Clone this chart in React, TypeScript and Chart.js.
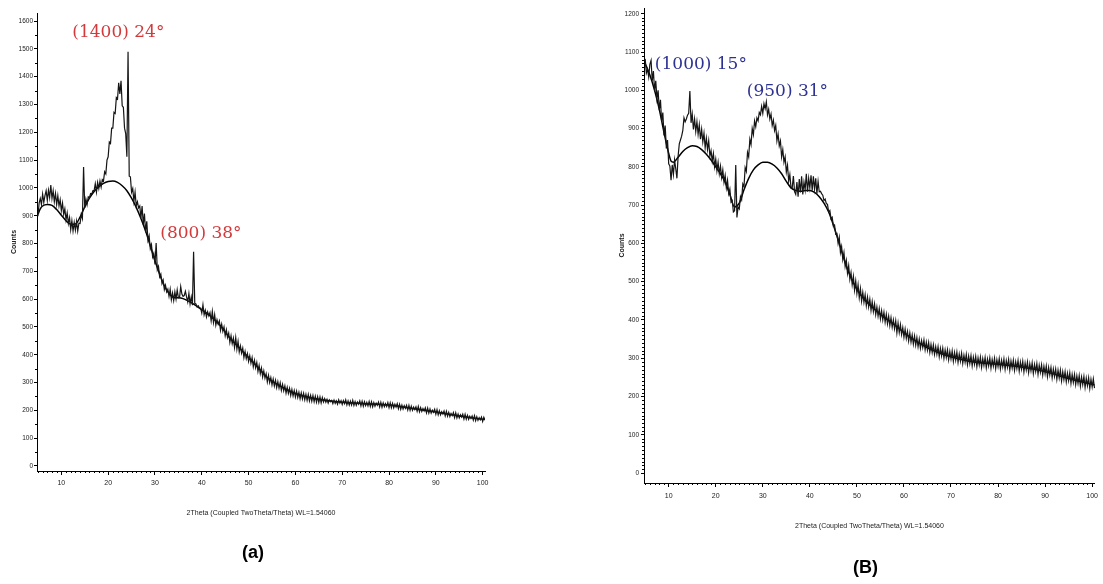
import { useEffect, useRef } from 'react';
import { Chart, registerables } from 'chart.js';

Chart.register(...registerables);

// ---- sampling grid of the scans (2θ, degrees) ----
const scanStart = 5;
const scanStep = 0.25;

// ---- panel (a): measured counts, one row per degree (x.00, x.25, x.50, x.75) ----
const countsA = [
  898, 945, 962, 940,
  978, 948, 972, 990,
  955, 992, 965, 1010,
  962, 990, 950, 980,
  940, 972, 935, 958,
  918, 945, 905, 925,
  885, 910, 872, 893,
  850, 882, 845, 876,
  848, 880, 845, 873,
  872, 905, 890, 1075,
  928, 960, 940, 968,
  965, 980, 978, 990,
  990, 1015, 985, 1020,
  998, 1025, 1003, 1030,
  1025, 1058, 1050, 1100,
  1112, 1165, 1160, 1215,
  1215, 1272, 1268, 1325,
  1320, 1378, 1338, 1385,
  1295, 1290, 1215, 1195,
  1112, 1490, 1042, 1040,
  985, 998, 952, 985,
  936, 950, 928, 935,
  892, 935, 868, 908,
  840, 880, 812, 828,
  782, 796, 752, 765,
  725, 802, 706, 718,
  680, 690, 656, 668,
  634, 650, 626, 636,
  610, 636, 598, 622,
  595, 626, 600, 633,
  605, 606, 645, 618,
  610, 613, 628, 608,
  590, 620, 583, 608,
  578, 770, 585, 583,
  572, 576, 568, 568,
  550, 580, 544, 560,
  536, 554, 540, 552,
  522, 556, 516, 544,
  506, 526, 510, 522,
  488, 510, 484, 500,
  468, 490, 462, 478,
  444, 468, 440, 460,
  426, 462, 420, 448,
  410, 432, 406, 424,
  390, 412, 386, 404,
  376, 396, 370, 390,
  357, 380, 353, 372,
  340, 362, 332, 352,
  320, 342, 316, 332,
  302, 326, 300, 318,
  292, 313, 288, 308,
  282, 303, 280, 299,
  272, 293, 270, 288,
  262, 283, 261, 279,
  254, 275, 252, 271,
  248, 269, 246, 265,
  242, 263, 241, 261,
  238, 258, 236, 257,
  234, 254, 233, 253,
  231, 251, 229, 249,
  228, 248, 227, 246,
  230, 242, 229, 240,
  226, 238, 231, 236,
  224, 237, 225, 234,
  222, 238, 226, 235,
  221, 235, 224, 238,
  220, 234, 219, 233,
  219, 236, 218, 232,
  218, 230, 222, 234,
  216, 233, 215, 231,
  217, 229, 216, 232,
  214, 231, 213, 228,
  215, 226, 218, 230,
  212, 229, 211, 227,
  213, 224, 214, 228,
  210, 227, 209, 225,
  209, 222, 212, 224,
  206, 222, 204, 219,
  205, 217, 207, 218,
  201, 218, 200, 215,
  200, 212, 203, 213,
  197, 214, 195, 210,
  196, 207, 198, 209,
  191, 208, 190, 205,
  190, 201, 193, 204,
  186, 203, 184, 199,
  184, 195, 187, 198,
  180, 197, 179, 193,
  178, 189, 181, 192,
  174, 191, 173, 187,
  173, 184, 176, 186,
  169, 186, 168, 182,
  168, 179, 171, 180,
  165, 181, 163, 177,
  164, 174, 166, 176,
  160, 175, 165,
];

// ---- panel (a): smooth fitted background ----
const fitAnglesA = [5, 5.5, 6, 7, 8, 9, 10, 11, 12, 13, 14, 15, 16, 17, 18, 19, 20, 21, 22, 23, 24, 25, 26, 27, 28, 29, 30, 31, 32, 33, 34, 35, 36, 38, 40, 42, 44, 46, 48, 50, 52, 54, 56, 58, 60, 65, 70, 75, 80, 85, 90, 95, 100.5];
const fitCountsA = [905, 925, 935, 940, 937, 922, 902, 882, 869, 870, 895, 932, 963, 987, 1004, 1016, 1023, 1025, 1020, 1008, 990, 963, 930, 890, 845, 792, 738, 690, 648, 620, 606, 605, 602, 585, 562, 537, 504, 460, 425, 390, 355, 318, 295, 276, 261, 240, 229, 224, 219, 207, 194, 180, 167];

// ---- panel (B): measured counts, one row per degree (x.00, x.25, x.50, x.75) ----
const countsB = [
  1082, 1045, 1055, 1035,
  1068, 1078, 1025, 1050,
  998, 1025, 978, 1000,
  948, 975, 918, 942,
  882, 908, 848, 870,
  808, 802, 765, 805,
  780, 818, 795, 770,
  828, 860, 870, 880,
  895, 928, 918, 925,
  935, 940, 998, 915,
  938, 898, 925, 892,
  918, 885, 910, 872,
  898, 865, 888, 850,
  875, 845, 868, 828,
  842, 815, 835, 800,
  820, 790, 812, 782,
  802, 772, 792, 760,
  778, 745, 765, 730,
  742, 708, 712, 682,
  685, 805, 668, 695,
  690, 722, 714, 755,
  748, 798, 788, 838,
  826, 872, 858, 900,
  884, 920, 905, 928,
  920, 942, 936, 958,
  940, 965, 952, 970,
  936, 950, 925, 938,
  908, 922, 895, 908,
  868, 886, 855, 868,
  826, 845, 812, 826,
  786, 804, 762, 780,
  745, 745, 776, 735,
  728, 760, 722, 768,
  733, 775, 728, 760,
  740, 782, 735, 770,
  745, 778, 738, 775,
  742, 770, 730, 762,
  735, 736, 730, 726,
  712, 716, 704, 702,
  682, 686, 664, 668,
  645, 648, 624, 626,
  600, 616, 576, 592,
  558, 576, 540, 556,
  522, 542, 506, 524,
  492, 514, 478, 502,
  469, 492, 458, 482,
  449, 472, 446, 466,
  437, 460, 434, 454,
  425, 448, 422, 442,
  414, 434, 410, 430,
  403, 424, 400, 420,
  394, 415, 390, 410,
  385, 406, 381, 400,
  377, 398, 366, 392,
  367, 388, 362, 380,
  355, 376, 352, 370,
  345, 366, 342, 361,
  337, 358, 334, 354,
  330, 350, 326, 346,
  328, 348, 322, 342,
  321, 341, 315, 336,
  315, 335, 310, 330,
  310, 330, 304, 326,
  306, 326, 300, 322,
  302, 322, 296, 318,
  298, 319, 292, 315,
  295, 316, 289, 311,
  292, 313, 286, 308,
  289, 310, 283, 306,
  286, 307, 280, 303,
  284, 305, 278, 301,
  282, 303, 276, 299,
  281, 302, 275, 298,
  280, 301, 274, 297,
  279, 300, 273, 296,
  278, 299, 272, 295,
  277, 298, 271, 294,
  276, 297, 269, 293,
  274, 295, 268, 291,
  273, 294, 266, 290,
  271, 292, 264, 288,
  269, 290, 262, 286,
  267, 288, 260, 284,
  265, 286, 258, 282,
  263, 283, 256, 279,
  259, 280, 252, 276,
  256, 276, 249, 272,
  252, 272, 245, 269,
  248, 269, 241, 265,
  244, 265, 238, 261,
  241, 262, 234, 258,
  237, 258, 231, 254,
  234, 255, 227, 251,
  231, 252, 224, 248,
  228, 249, 221, 245,
  225, 246, 222,
];

// ---- panel (B): smooth fitted background ----
const fitAnglesB = [5, 6, 7, 8, 9, 10, 10.5, 11, 12, 13, 14, 15, 16, 17, 18, 19, 20, 21, 22, 23, 24, 25, 26, 27, 28, 29, 30, 31, 32, 33, 34, 35, 36, 37, 38, 39, 40, 41, 42, 43, 44, 45, 46, 47, 48, 50, 52, 54, 56, 58, 60, 62, 64, 66, 68, 70, 75, 80, 85, 90, 95, 100.5];
const fitCountsB = [1070, 1040, 1000, 950, 890, 835, 815, 812, 825, 840, 850, 855, 853, 845, 833, 818, 800, 782, 760, 728, 695, 705, 740, 770, 792, 805, 812, 812, 807, 797, 782, 762, 745, 738, 736, 738, 738, 733, 722, 705, 682, 648, 610, 570, 532, 480, 448, 425, 405, 388, 367, 349, 334, 321, 312, 304, 290, 284, 277, 265, 247, 230];

// ---- ticks ----
const xTickValues = [10, 20, 30, 40, 50, 60, 70, 80, 90, 100];
const yTickValuesA = [0, 100, 200, 300, 400, 500, 600, 700, 800, 900, 1000, 1100, 1200, 1300, 1400, 1500, 1600];
const yTickValuesB = [0, 100, 200, 300, 400, 500, 600, 700, 800, 900, 1000, 1100, 1200];

// ---- peak annotations ----
const peakTextsA = ['(1400) 24°', '(800) 38°'];
const peakAnglesA = [12.35, 31.15];
const peakCountsA = [1558, 837];
const peakTextsB = ['(1000) 15°', '(950) 31°'];
const peakAnglesB = [7.06, 26.6];
const peakCountsB = [1066, 996];

const xTitle = '2Theta (Coupled TwoTheta/Theta) WL=1.54060';
const yTitle = 'Counts';

const narrow = "'Liberation Sans Narrow', 'Liberation Sans', Arial, sans-serif";

type Panel = {
  counts: number[];
  fitAngles: number[];
  fitCounts: number[];
  yTicks: number[];
  peakTexts: string[];
  peakAngles: number[];
  peakCounts: number[];
  peakColor: string;
  panelLabel: string;
  left: number;
  width: number;
  pad: { left: number; right: number; top: number; bottom: number };
  yAxisWidth: number;
  xAxisHeight: number;
  xMin: number;
  xMax: number;
  yMin: number;
  yMax: number;
  yMinorStep: number;
  yTitlePad: number;
  xTitlePad: number;
  xTickPad: number;
  yTickPad: number;
  panelDx: number;
  panelY: number;
};

const panels: Panel[] = [
  {
    counts: countsA, fitAngles: fitAnglesA, fitCounts: fitCountsA, yTicks: yTickValuesA,
    peakTexts: peakTextsA, peakAngles: peakAnglesA, peakCounts: peakCountsA, peakColor: '#d23a3c',
    panelLabel: '(a)', left: 0, width: 500,
    pad: { left: 0, right: 15, top: 13, bottom: 0 },
    yAxisWidth: 37, xAxisHeight: 113,
    xMin: 4.8, xMax: 100.5, yMin: -18, yMax: 1629, yMinorStep: 50,
    yTitlePad: 10, xTitlePad: 67, xTickPad: 4, yTickPad: 1, panelDx: -8, panelY: 553,
  },
  {
    counts: countsB, fitAngles: fitAnglesB, fitCounts: fitCountsB, yTicks: yTickValuesB,
    peakTexts: peakTextsB, peakAngles: peakAnglesB, peakCounts: peakCountsB, peakColor: '#2d3192',
    panelLabel: '(B)', left: 600, width: 503,
    pad: { left: 0, right: 3, top: 8, bottom: 0 },
    yAxisWidth: 44, xAxisHeight: 101,
    xMin: 4.75, xMax: 100.6, yMin: -26, yMax: 1215, yMinorStep: 10,
    yTitlePad: 18, xTitlePad: 54, xTickPad: 5, yTickPad: 2, panelDx: -4, panelY: 568,
  },
];

function makeOverlay(p: Panel) {
  return {
    id: 'overlay',
    afterDraw(chart: any) {
      const { ctx, chartArea, scales } = chart;
      const xs = scales.x;
      const ys = scales.y;
      ctx.save();
      // minor ticks
      ctx.strokeStyle = '#000';
      ctx.lineWidth = 1;
      ctx.beginPath();
      for (let v = 5; v <= 100; v += 1) {
        if (v % 10 === 0) continue;
        const px = Math.round(xs.getPixelForValue(v)) + 0.5;
        ctx.moveTo(px, chartArea.bottom);
        ctx.lineTo(px, chartArea.bottom + 2);
      }
      for (let v = p.yMinorStep; v < p.yTicks[p.yTicks.length - 1]; v += p.yMinorStep) {
        if (v % 100 === 0) continue;
        const py = Math.round(ys.getPixelForValue(v)) + 0.5;
        ctx.moveTo(chartArea.left - 2, py);
        ctx.lineTo(chartArea.left, py);
      }
      ctx.stroke();
      // peak annotations
      ctx.font = "17px 'DejaVu Serif', 'Liberation Serif', serif";
      ctx.fillStyle = p.peakColor;
      ctx.textAlign = 'left';
      ctx.textBaseline = 'middle';
      p.peakTexts.forEach((t, i) => {
        ctx.fillText(t, xs.getPixelForValue(p.peakAngles[i]), ys.getPixelForValue(p.peakCounts[i]));
      });
      // panel label
      ctx.font = "bold 18px 'Liberation Sans', Arial, sans-serif";
      ctx.fillStyle = '#000';
      ctx.textAlign = 'center';
      ctx.fillText(p.panelLabel, (chartArea.left + chartArea.right) / 2 + p.panelDx, p.panelY);
      ctx.restore();
    },
  };
}

function makeConfig(p: Panel): any {
  const measured = p.counts.map((c, i) => ({ x: scanStart + i * scanStep, y: c }));
  const fitted = p.fitCounts.map((c, i) => ({ x: p.fitAngles[i], y: c }));
  return {
    type: 'line',
    data: {
      datasets: [
        { data: measured, borderColor: '#151515', borderWidth: 1.2, pointRadius: 0, tension: 0, fill: false },
        { data: fitted, borderColor: '#000', borderWidth: 1.5, pointRadius: 0, tension: 0.4, cubicInterpolationMode: 'monotone', fill: false },
      ],
    },
    options: {
      animation: false,
      responsive: false,
      maintainAspectRatio: false,
      layout: { padding: p.pad },
      plugins: { legend: { display: false }, tooltip: { enabled: false }, title: { display: false } },
      scales: {
        x: {
          type: 'linear',
          min: p.xMin,
          max: p.xMax,
          afterBuildTicks: (axis: any) => { axis.ticks = xTickValues.map((v) => ({ value: v })); },
          afterFit: (axis: any) => { axis.height = p.xAxisHeight; },
          ticks: { font: { family: narrow, size: 7 }, color: '#222', padding: p.xTickPad, maxRotation: 0, autoSkip: false },
          grid: { drawOnChartArea: false, drawTicks: true, tickLength: 4, tickColor: '#000' },
          border: { display: true, color: '#000', width: 1 },
          title: { display: true, text: xTitle, color: '#222', font: { family: narrow, size: 7 }, padding: { top: 0, bottom: p.xTitlePad } },
        },
        y: {
          type: 'linear',
          min: p.yMin,
          max: p.yMax,
          afterBuildTicks: (axis: any) => { axis.ticks = p.yTicks.map((v) => ({ value: v })); },
          afterFit: (axis: any) => { axis.width = p.yAxisWidth; },
          ticks: { font: { family: narrow, size: 6.5 }, color: '#222', padding: p.yTickPad, callback: (v: any) => String(v) },
          grid: { drawOnChartArea: false, drawTicks: true, tickLength: 3, tickColor: '#000' },
          border: { display: true, color: '#000', width: 1 },
          title: { display: true, text: yTitle, color: '#222', font: { family: narrow, size: 7, weight: 'bold' }, padding: { top: p.yTitlePad, bottom: 0 } },
        },
      },
    },
    plugins: [makeOverlay(p)],
  };
}

function PanelChart({ p }: { p: Panel }) {
  const ref = useRef<HTMLCanvasElement | null>(null);
  useEffect(() => {
    if (!ref.current) return;
    const chart = new Chart(ref.current, makeConfig(p));
    return () => chart.destroy();
  }, [p]);
  return (
    <canvas
      ref={ref}
      width={p.width}
      height={584}
      style={{ position: 'absolute', left: p.left, top: 0, width: p.width, height: 584 }}
    />
  );
}

export default function App() {
  return (
    <div style={{ position: 'absolute', left: 0, top: 0, width: 1103, height: 584, background: '#fff', overflow: 'hidden' }}>
      {panels.map((p) => (
        <PanelChart key={p.panelLabel} p={p} />
      ))}
    </div>
  );
}
